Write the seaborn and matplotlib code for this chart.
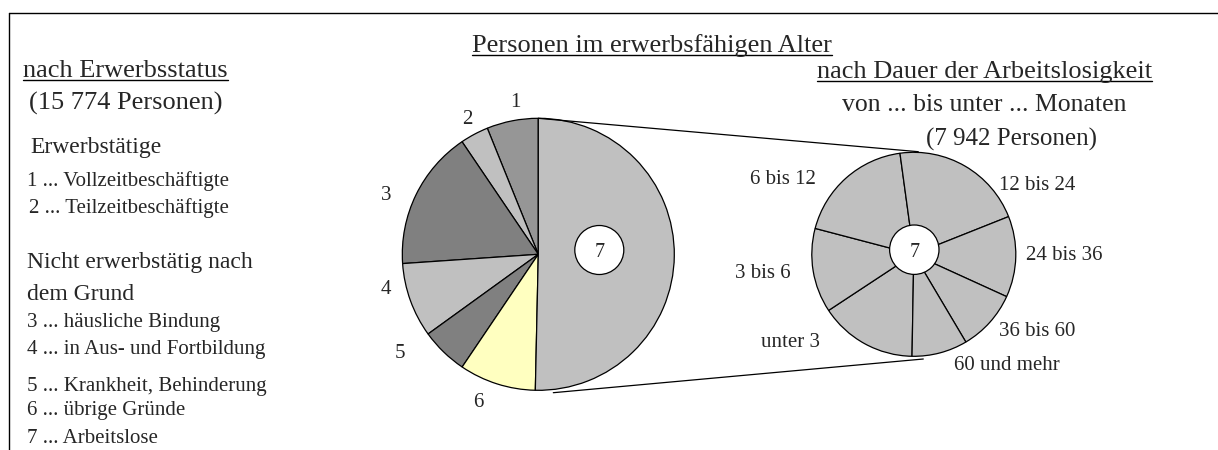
import matplotlib
matplotlib.use('Agg')
import matplotlib.pyplot as plt
import seaborn as sns

# Personen im erwerbsfähigen Alter nach Erwerbsstatus (15 774 Personen)
status_labels = ['1', '2', '3', '4', '5', '6', '7']
status_counts = [965, 530, 2620, 1400, 880, 1437, 7942]
status_colors = ['#969696', '#c0c0c0', '#808080', '#c0c0c0', '#808080', '#ffffc0', '#c0c0c0']

# Arbeitslose nach Dauer der Arbeitslosigkeit (7 942 Personen)
dauer_labels = ['unter 3', '3 bis 6', '6 bis 12', '12 bis 24', '24 bis 36', '36 bis 60', '60 und mehr']
dauer_counts = [1227, 1061, 1489, 1679, 1019, 768, 699]
dauer_color = '#c0c0c0'

legend_lines = [
    ('Erwerbstätige', 17, 30, 153),
    ('1 ... Vollzeitbeschäftigte', 15, 27, 186),
    ('2 ... Teilzeitbeschäftigte', 15, 29, 213),
    ('Nicht erwerbstätig nach', 17, 27, 268),
    ('dem Grund', 17, 27, 300),
    ('3 ... häusliche Bindung', 15, 27, 327),
    ('4 ... in Aus- und Fortbildung', 15, 27, 354),
    ('5 ... Krankheit, Behinderung', 15, 27, 391),
    ('6 ... übrige Gründe', 15, 27, 415),
    ('7 ... Arbeitslose', 15, 27, 443),
]

sns.set_theme(style='white')
plt.rcParams['font.family'] = ['Liberation Serif', 'DejaVu Serif']

W, H = 1218, 450


def Y(y):
    # Bildkoordinate (von oben) -> Datenkoordinate (von unten)
    return H - y


fig = plt.figure(figsize=(W / 100, H / 100), dpi=100)
ax = fig.add_axes([0, 0, 1, 1])

# linker Kreis
c1 = (538.3, Y(254.3))
r1 = 136
ax.pie(status_counts, colors=status_colors, startangle=90, counterclock=True,
       center=c1, radius=r1, frame=True,
       wedgeprops=dict(edgecolor='black', linewidth=0.9))

# rechter Kreis
c2 = (913.8, Y(254.3))
r2 = 102
ax.pie(dauer_counts, colors=[dauer_color] * len(dauer_counts), startangle=269,
       counterclock=False, center=c2, radius=r2, frame=True,
       wedgeprops=dict(edgecolor='black', linewidth=0.9))

# weiße Kreise mit "7"
for (x, y, r) in [(599.3, 250, 24.5), (914.3, 249.7, 24.7)]:
    ax.add_patch(plt.Circle((x, Y(y)), r, facecolor='white', edgecolor='black', lw=0.9, zorder=5))
    ax.text(x, Y(y), '7', ha='center', va='center_baseline', fontsize=14.5, zorder=6)

# Verbindungslinien
ax.plot([538.3, 918.3], [Y(118.3), Y(151.7)], color='black', lw=0.9)
ax.plot([553.3, 923.3], [Y(392.7), Y(359)], color='black', lw=0.9)

# Beschriftungen linker Kreis
status_pos = [(515, 102.7), (467.3, 120), (386, 195), (386, 290), (400, 353.3), (478.3, 402.7)]
for lab, (x, y) in zip(status_labels[:6], status_pos):
    ax.text(x, Y(y), lab, ha='center', va='center', fontsize=15)

# Beschriftungen rechter Kreis
dauer_pos = [(790.7, 342.7), (762.7, 273.3), (782.7, 179.3), (1037.3, 185),
             (1064.3, 256), (1036.7, 331), (1006.7, 365)]
for lab, (x, y) in zip(dauer_labels, dauer_pos):
    ax.text(x, Y(y), lab, ha='center', va='center', fontsize=15)

# Überschriften
underlined = []
underlined.append(ax.text(651.7, Y(52), 'Personen im erwerbsfähigen Alter', ha='center',
                          va='baseline', fontsize=19))
underlined.append(ax.text(23, Y(77), 'nach Erwerbsstatus', ha='left', va='baseline', fontsize=19))
underlined.append(ax.text(984.5, Y(78), 'nach Dauer der Arbeitslosigkeit', ha='center',
                          va='baseline', fontsize=19))
ax.text(29, Y(110), '(15 774 Personen)', ha='left', va='baseline', fontsize=19)
ax.text(984.7, Y(111), 'von ... bis unter ... Monaten', ha='center', va='baseline', fontsize=18.5)
ax.text(1011, Y(145.5), '(7 942 Personen)', ha='center', va='baseline', fontsize=18)

for txt, fs, x, y in legend_lines:
    ax.text(x, Y(y), txt, ha='left', va='baseline', fontsize=fs)

# Rahmen (oben und links)
ax.plot([9, W], [Y(13), Y(13)], color='black', lw=1)
ax.plot([9, 9], [Y(13), 0], color='black', lw=1)

ax.set_xlim(0, W)
ax.set_ylim(0, H)
ax.set_aspect('auto')
ax.axis('off')

# Unterstreichungen
fig.canvas.draw()
renderer = fig.canvas.get_renderer()
for t in underlined:
    bb = t.get_window_extent(renderer)
    yb = t.get_position()[1] - 3
    ax.plot([bb.x0, bb.x1], [yb, yb], color='black', lw=1)

fig.savefig('out.png', dpi=100, facecolor='white')
